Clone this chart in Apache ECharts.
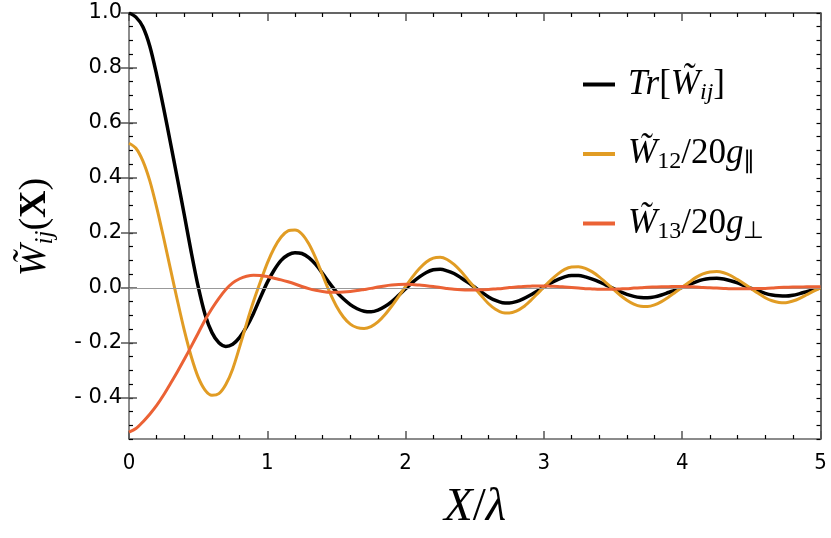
<!DOCTYPE html>
<html>
<head>
<meta charset="utf-8">
<script src="https://cdn.jsdelivr.net/npm/echarts@6/dist/echarts.min.js"></script>
<style>html,body{margin:0;padding:0;background:#fff}#c{width:831px;height:538px}</style>
</head>
<body>
<div id="c"></div>
<script>
const xs = [0,0.05,0.1,0.15,0.2,0.25,0.3,0.35,0.4,0.45,0.5,0.55,0.6,0.65,0.7,0.75,0.8,0.85,0.9,0.95,
  1.0,1.05,1.1,1.15,1.2,1.25,1.3,1.35,1.4,1.45,1.5,1.55,1.6,1.65,1.7,1.75,1.8,1.85,1.9,1.95,
  2.0,2.05,2.1,2.15,2.2,2.25,2.3,2.35,2.4,2.45,2.5,2.55,2.6,2.65,2.7,2.75,2.8,2.85,2.9,2.95,
  3.0,3.05,3.1,3.15,3.2,3.25,3.3,3.35,3.4,3.45,3.5,3.55,3.6,3.65,3.7,3.75,3.8,3.85,3.9,3.95,
  4.0,4.05,4.1,4.15,4.2,4.25,4.3,4.35,4.4,4.45,4.5,4.55,4.6,4.65,4.7,4.75,4.8,4.85,4.9,4.95,5.0];
const trW = [1.000,0.985,0.950,0.880,0.775,0.655,0.527,0.397,0.265,0.130,0.005,-0.097,-0.163,-0.200,-0.213,-0.205,-0.180,-0.142,-0.093,-0.035,
  0.020,0.065,0.100,0.120,0.128,0.125,0.110,0.085,0.052,0.017,-0.015,-0.040,-0.061,-0.076,-0.085,-0.087,-0.081,-0.068,-0.050,-0.027,
  -0.003,0.020,0.040,0.056,0.066,0.068,0.062,0.052,0.037,0.020,0.002,-0.016,-0.033,-0.046,-0.054,-0.055,-0.050,-0.040,-0.027,-0.012,
  0.003,0.018,0.030,0.040,0.045,0.045,0.040,0.032,0.022,0.010,-0.002,-0.014,-0.024,-0.031,-0.035,-0.036,-0.033,-0.026,-0.017,-0.008,
  0.002,0.012,0.022,0.030,0.034,0.035,0.032,0.026,0.018,0.008,-0.002,-0.011,-0.020,-0.026,-0.029,-0.030,-0.027,-0.021,-0.014,-0.007,0.000];
const w12 = [0.526,0.508,0.462,0.390,0.293,0.183,0.068,-0.046,-0.155,-0.250,-0.325,-0.372,-0.391,-0.385,-0.352,-0.295,-0.215,-0.130,-0.050,0.022,
  0.090,0.145,0.185,0.207,0.210,0.196,0.160,0.108,0.046,-0.015,-0.067,-0.106,-0.132,-0.145,-0.148,-0.141,-0.124,-0.098,-0.066,-0.031,
  0.005,0.040,0.070,0.094,0.108,0.111,0.103,0.085,0.060,0.030,0.000,-0.030,-0.058,-0.078,-0.090,-0.092,-0.085,-0.070,-0.048,-0.023,
  0.003,0.028,0.050,0.067,0.076,0.077,0.071,0.058,0.040,0.018,-0.004,-0.026,-0.045,-0.059,-0.067,-0.068,-0.062,-0.050,-0.034,-0.016,
  0.002,0.020,0.038,0.051,0.058,0.059,0.055,0.045,0.030,0.014,-0.003,-0.020,-0.036,-0.047,-0.053,-0.054,-0.048,-0.038,-0.025,-0.012,0.000];
const w13 = [-0.525,-0.512,-0.488,-0.460,-0.428,-0.390,-0.348,-0.305,-0.260,-0.213,-0.165,-0.117,-0.075,-0.038,-0.006,0.018,0.033,0.042,0.046,0.045,
  0.041,0.035,0.029,0.022,0.014,0.005,-0.003,-0.009,-0.013,-0.016,-0.016,-0.015,-0.013,-0.010,-0.006,-0.002,0.003,0.007,0.010,0.012,
  0.013,0.012,0.010,0.008,0.005,0.001,-0.002,-0.005,-0.007,-0.008,-0.008,-0.007,-0.006,-0.004,-0.002,0.001,0.003,0.005,0.006,0.007,
  0.007,0.006,0.005,0.003,0.001,-0.001,-0.003,-0.004,-0.005,-0.005,-0.005,-0.004,-0.003,-0.001,0.000,0.002,0.003,0.004,0.004,0.005,
  0.005,0.004,0.003,0.001,0.000,-0.001,-0.002,-0.003,-0.003,-0.003,-0.003,-0.002,-0.002,-0.001,0.001,0.002,0.003,0.003,0.004,0.004,0.004];
const yMajorTicks = [-0.4,-0.2,0,0.2,0.4,0.6,0.8,1.0];
const seriesNames = ['Tr','W12','W13'];
const seriesColors = ['#000000','#E19C24','#EB6235'];
const legendLabels = {
  'Tr': '{it|Tr}{rm|[}{it|W\u0303}{sub|ij}{rm|]}',
  'W12': '{it|W\u0303}{subrm|12}{rm|/20}{it|g}{subrm|\u2225}',
  'W13': '{it|W\u0303}{subrm|13}{rm|/20}{it|g}{subrm|\u22A5}'
};
const serif = 'Liberation Serif';
const mathRich = {
  it: {fontFamily: serif, fontStyle: 'italic', fontSize: 35, lineHeight: 40, color: '#000'},
  rm: {fontFamily: serif, fontSize: 35, lineHeight: 40, color: '#000'},
  sub: {fontFamily: serif, fontStyle: 'italic', fontSize: 24, lineHeight: 22, verticalAlign: 'bottom', color: '#000'},
  subrm: {fontFamily: serif, fontSize: 24, lineHeight: 22, verticalAlign: 'bottom', color: '#000'}
};
const chart = echarts.init(document.getElementById('c'), null, {renderer: 'canvas'});
function xAx(pos, showLabel) {
  return {
    type: 'value', min: 0, max: 5, interval: 1, position: pos,
    axisLine: {show: true, onZero: false, lineStyle: {color: pos === 'top' ? '#333' : '#666', width: 1.5}},
    axisTick: {show: true, inside: true, length: 8, lineStyle: {color: '#555', width: 1.5}},
    minorTick: {show: true, splitNumber: 5, length: 4, lineStyle: {color: '#000', width: 1.2}},
    splitLine: {show: false}, minorSplitLine: {show: false},
    axisLabel: {show: showLabel, margin: 13, fontSize: 22, color: '#000', fontFamily: 'DejaVu Sans Condensed, DejaVu Sans'}
  };
}
function yMinor(pos, showLabel) {
  return {
    type: 'value', min: -0.55, max: 1.0, interval: 0.05, position: pos,
    axisLine: {show: true, onZero: false, lineStyle: {color: pos === 'right' ? '#333' : '#666', width: 1.5}},
    axisTick: {show: true, inside: true, length: 4, lineStyle: {color: '#000', width: 1.2}},
    splitLine: {show: false},
    axisLabel: {
      show: showLabel, interval: 0, margin: 7, fontSize: 21, color: '#000', fontFamily: 'DejaVu Sans',
      showMinLabel: true, showMaxLabel: true,
      formatter: function (v) {
        const k = Math.round(v * 100);
        if (k % 20 !== 0) return '';
        const s = Math.abs(v).toFixed(1);
        return k < 0 ? '- ' + s : s;
      }
    }
  };
}
function yMajor(pos) {
  return {
    type: 'value', min: -0.55, max: 1.0, position: pos,
    axisLine: {show: false},
    axisTick: {show: true, inside: true, length: 8, customValues: yMajorTicks, lineStyle: {color: '#555', width: 1.5}},
    splitLine: {show: false},
    axisLabel: {show: false}
  };
}
const dataSets = [trW, w12, w13];
const series = seriesNames.map(function (name, i) {
  const s = {
    name: name, type: 'line', xAxisIndex: 0, yAxisIndex: 0,
    data: xs.map(function (x, j) { return [x, dataSets[i][j]]; }),
    symbol: 'none', smooth: 0.3,
    lineStyle: {color: seriesColors[i], width: i === 0 ? 3.5 : 3},
    itemStyle: {color: seriesColors[i]},
    z: 3 + i
  };
  if (i === 0) {
    s.markLine = {silent: true, symbol: 'none', label: {show: false},
      lineStyle: {color: '#999', width: 1, type: 'solid'}, data: [{yAxis: 0}]};
  }
  return s;
});
chart.setOption({
  animation: false,
  backgroundColor: '#fff',
  grid: {left: 129, right: 10.5, top: 13, bottom: 99, containLabel: false},
  xAxis: [xAx('bottom', true), xAx('top', false)],
  yAxis: [yMinor('left', true), yMajor('left'), yMinor('right', false), yMajor('right')],
  legend: {
    orient: 'vertical', left: 578, top: 62, itemGap: 32,
    itemWidth: 32, itemHeight: 4, icon: 'rect',
    data: seriesNames,
    formatter: function (n) { return legendLabels[n]; },
    textStyle: {padding: [0, 0, 0, 8], rich: mathRich}
  },
  graphic: [
    {type: 'text', x: 35, y: 227, rotation: Math.PI / 2,
      style: {text: '{it|W\u0303}{sub|ij}{rm|(}{bf|X}{rm|)}', rich: {
        it: {fontFamily: serif, fontStyle: 'italic', fontSize: 38, lineHeight: 46},
        rm: {fontFamily: serif, fontSize: 38, lineHeight: 46},
        bf: {fontFamily: serif, fontWeight: 'bold', fontSize: 38, lineHeight: 46},
        sub: {fontFamily: serif, fontStyle: 'italic', fontSize: 25, lineHeight: 22, verticalAlign: 'bottom'}
      }, align: 'center', verticalAlign: 'middle', fill: '#000'}},
    {type: 'text', x: 475, y: 508,
      style: {text: '{it|X}{rm|/}{it|\u03BB}', rich: {
        it: {fontFamily: serif, fontStyle: 'italic', fontSize: 47},
        rm: {fontFamily: serif, fontSize: 47}
      }, align: 'center', verticalAlign: 'middle', fill: '#000'}}
  ],
  series: series
});
</script>
</body>
</html>
